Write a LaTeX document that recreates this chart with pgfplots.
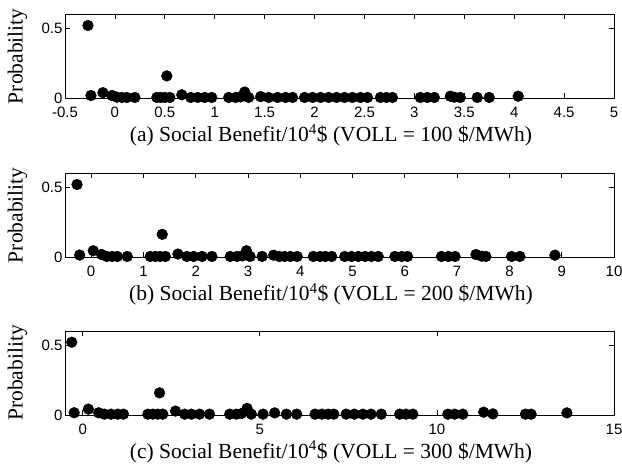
\documentclass[border=0pt]{standalone}
\usepackage{fontspec}
\setmainfont{Liberation Serif}
\setsansfont{Liberation Sans}
\usepackage{pgfplots}
\pgfplotsset{compat=1.18}
\pgfplotsset{
  panel/.style={
    anchor=south west, width=549pt, height=84pt, scale only axis,
    ymin=0, ymax=0.6, ytick={0,0.5}, yticklabels={0,0.5},
    xmin=-0.5, clip=false,
    tick align=inside, major tick length=5pt,
    axis line style={line width=0.8pt}, every tick/.style={line width=0.8pt, black},
    /pgf/number format/assume math mode=true,
    ticklabel style={font=\fontsize{15}{15}\selectfont\sffamily},
    xticklabel style={yshift=-5.5pt},
    yticklabel style={xshift=1pt},
    label style={font=\fontsize{21.5}{21.5}\selectfont},
    ylabel={Probability},
    ylabel style={at={(axis description cs:-0.0865,0.5)}, anchor=center},
    xlabel style={at={(axis description cs:0.4845,0)}, anchor=base, yshift=-43.4pt},
  },
  dots/.style={only marks, mark=*, mark size=5.4pt, color=black, mark options={fill=black, draw=black}},
}
\begin{document}
\begin{tikzpicture}
\path[use as bounding box] (0,0) rectangle (622pt,465pt);
\begin{axis}[panel, at={(65pt,366.7pt)}, xmax=5,
  xtick={-0.5,0,0.5,1,1.5,2,2.5,3,3.5,4,4.5,5},
  xticklabels={-0.5,0,0.5,1,1.5,2,2.5,3,3.5,4,4.5,5},
  xlabel={(a) Social Benefit/10\textsuperscript{4}\$ (VOLL = 100 \$/MWh)}]
\addplot[dots] coordinates {
(-0.27,0.52) (-0.24,0.02) (-0.12,0.04) (-0.03,0.02) (0.02,0.008) (0.07,0.006) (0.12,0.006) (0.2,0.006)
(0.42,0.006) (0.46,0.006) (0.5,0.006) (0.55,0.006) (0.52,0.16) (0.67,0.025)
(0.76,0.006) (0.83,0.006) (0.9,0.006) (0.97,0.006)
(1.14,0.006) (1.21,0.006) (1.26,0.01) (1.30,0.045) (1.34,0.006)
(1.46,0.012) (1.54,0.006) (1.63,0.006) (1.71,0.006) (1.78,0.006)
(1.90,0.006) (1.98,0.006) (2.06,0.006) (2.14,0.006) (2.22,0.006)
(2.30,0.006) (2.38,0.006) (2.46,0.006) (2.53,0.006)
(2.66,0.006) (2.72,0.006) (2.78,0.006)
(3.06,0.006) (3.13,0.006) (3.20,0.006)
(3.36,0.015) (3.40,0.008) (3.46,0.006)
(3.63,0.006) (3.75,0.006) (4.04,0.015)
};
\end{axis}
\begin{axis}[panel, at={(65pt,207.7pt)}, xmax=10,
  xtick={0,1,2,3,4,5,6,7,8,9,10},
  xticklabels={0,1,2,3,4,5,6,7,8,9,10},
  xlabel={(b) Social Benefit/10\textsuperscript{4}\$ (VOLL = 200 \$/MWh)}]
\addplot[dots] coordinates {
(-0.27,0.52) (-0.22,0.016) (0.04,0.047) (0.2,0.02) (0.3,0.006) (0.4,0.006) (0.5,0.006) (0.69,0.006)
(1.13,0.006) (1.23,0.006) (1.32,0.006) (1.42,0.006) (1.36,0.164) (1.66,0.023)
(1.83,0.006) (1.96,0.006) (2.12,0.006) (2.31,0.006)
(2.66,0.006) (2.79,0.006) (2.89,0.01) (2.97,0.047) (3.04,0.006)
(3.27,0.006) (3.49,0.015) (3.6,0.006) (3.70,0.006) (3.81,0.006) (3.94,0.006)
(4.25,0.006) (4.38,0.006) (4.48,0.006) (4.6,0.006)
(4.85,0.006) (4.98,0.006) (5.11,0.006) (5.24,0.006) (5.36,0.006) (5.49,0.006)
(5.81,0.006) (5.94,0.006) (6.05,0.006)
(6.70,0.006) (6.83,0.006) (6.96,0.006)
(7.36,0.02) (7.47,0.008) (7.55,0.006)
(8.04,0.006) (8.20,0.006) (8.87,0.015)
};
\end{axis}
\begin{axis}[panel, at={(65pt,50pt)}, xmax=15,
  xtick={0,5,10,15},
  xticklabels={0,5,10,15},
  xlabel={(c) Social Benefit/10\textsuperscript{4}\$ (VOLL = 300 \$/MWh)}]
\addplot[dots] coordinates {
(-0.31,0.52) (-0.24,0.016) (0.16,0.042) (0.45,0.016) (0.61,0.006) (0.8,0.006) (0.99,0.006) (1.15,0.006)
(1.84,0.006) (1.98,0.006) (2.12,0.006) (2.26,0.006) (2.17,0.158) (2.62,0.028)
(2.88,0.006) (3.07,0.006) (3.30,0.006) (3.58,0.006)
(4.15,0.006) (4.34,0.006) (4.48,0.01) (4.64,0.047) (4.76,0.006)
(5.09,0.006) (5.42,0.015) (5.75,0.006) (6.04,0.006)
(6.56,0.006) (6.75,0.006) (6.93,0.006) (7.09,0.006)
(7.44,0.006) (7.67,0.006) (7.91,0.006) (8.14,0.006) (8.43,0.006)
(8.95,0.006) (9.13,0.006) (9.32,0.006)
(10.31,0.006) (10.50,0.006) (10.73,0.006)
(11.32,0.02) (11.58,0.008)
(12.50,0.006) (12.66,0.006) (13.67,0.015)
};
\end{axis}
\end{tikzpicture}
\end{document}
